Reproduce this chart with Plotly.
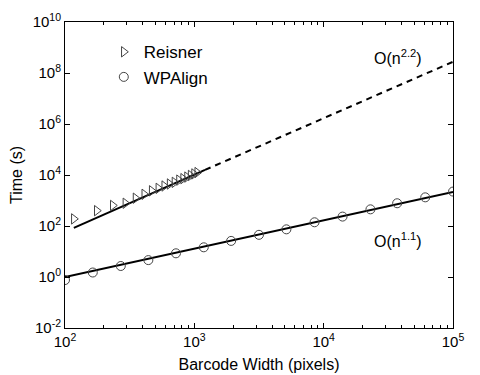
import plotly.graph_objects as go

# --- data ---
reisner_x = [117, 176, 234, 293, 351, 410, 468, 527, 585, 644, 702, 761, 819, 878, 936, 995, 1053]
reisner_y = [190, 400, 640, 780, 1230, 1750, 2400, 3000, 3700, 4450, 5150, 6300, 7200, 8300, 9600, 11000, 12500]

wp_x = [100, 164, 270, 441, 721, 1183, 1925, 3160, 5150, 8500, 14000, 23000, 37000, 61000, 100000]
wp_y = [0.76, 1.5, 2.7, 4.6, 8.5, 14.6, 26, 45, 74, 140, 234, 450, 780, 1330, 2240]

reisner_fit_x = [117, 1210]
reisner_fit_y = [85, 15800]
reisner_ext_x = [1210, 100000]
reisner_ext_y = [15800, 2.75e8]
wp_fit_x = [100, 100000]
wp_fit_y = [1.0, 2150]

xtick_vals = [1e2, 1e3, 1e4, 1e5]
xtick_text = ["10<sup>2</sup>", "10<sup>3</sup>", "10<sup>4</sup>", "10<sup>5</sup>"]
ytick_vals = [1e-2, 1e0, 1e2, 1e4, 1e6, 1e8, 1e10]
ytick_text = ["10<sup>-2</sup>", "10<sup>0</sup>", "10<sup>2</sup>", "10<sup>4</sup>",
              "10<sup>6</sup>", "10<sup>8</sup>", "10<sup>10</sup>"]
x_minor = [m * 10 ** e for e in (2, 3, 4) for m in range(2, 10)]

fig = go.Figure()
fig.add_trace(go.Scatter(x=reisner_fit_x, y=reisner_fit_y, mode="lines",
                         line=dict(color="black", width=2), showlegend=False))
fig.add_trace(go.Scatter(x=reisner_ext_x, y=reisner_ext_y, mode="lines",
                         line=dict(color="black", width=2, dash="6px,5px"), showlegend=False))
fig.add_trace(go.Scatter(x=wp_fit_x, y=wp_fit_y, mode="lines",
                         line=dict(color="black", width=2), showlegend=False))
fig.add_trace(go.Scatter(x=reisner_x, y=reisner_y, mode="markers", name="Reisner",
                         marker=dict(symbol="triangle-right-open", size=9,
                                     color="#444", line=dict(width=1, color="#444"))))
fig.add_trace(go.Scatter(x=wp_x, y=wp_y, mode="markers", name="WPAlign",
                         marker=dict(symbol="circle-open", size=9,
                                     color="#444", line=dict(width=1, color="#444"))))

font = "Liberation Sans, Arial, sans-serif"
fig.update_layout(
    width=480, height=375,
    margin=dict(l=57, r=35, t=14, b=55, autoexpand=False),
    paper_bgcolor="white", plot_bgcolor="white",
    font=dict(family=font, size=15, color="black"),
    legend=dict(x=0.1, y=0.96, xanchor="left", yanchor="top",
                bgcolor="rgba(0,0,0,0)", font=dict(size=17), itemwidth=30,
                tracegroupgap=6),
    annotations=[
        dict(x=4.575, y=8.63, xref="x", yref="y", text="O(n<sup>2.2</sup>)",
             showarrow=False, font=dict(size=16)),
        dict(x=4.575, y=1.45, xref="x", yref="y", text="O(n<sup>1.1</sup>)",
             showarrow=False, font=dict(size=16)),
    ],
)
fig.update_xaxes(type="log", range=[2, 5], tickmode="array", tickvals=xtick_vals,
                 ticktext=xtick_text, ticks="inside", ticklen=5, tickcolor="black",
                 showline=True, linecolor="black", linewidth=1, mirror="ticks",
                 showgrid=False, zeroline=False, automargin=False,
                 minor=dict(tickmode="array", tickvals=x_minor, ticks="inside",
                            ticklen=3, tickcolor="black", showgrid=False),
                 title=dict(text="Barcode Width (pixels)", font=dict(size=16), standoff=9))
fig.update_yaxes(type="log", range=[-2, 10], tickmode="array", tickvals=ytick_vals,
                 ticktext=ytick_text, ticks="inside", ticklen=5, tickcolor="black",
                 showline=True, linecolor="black", linewidth=1, mirror="ticks",
                 showgrid=False, zeroline=False, automargin=False,
                 title=dict(text="Time (s)", font=dict(size=16), standoff=6))

fig.write_html("out.html")
